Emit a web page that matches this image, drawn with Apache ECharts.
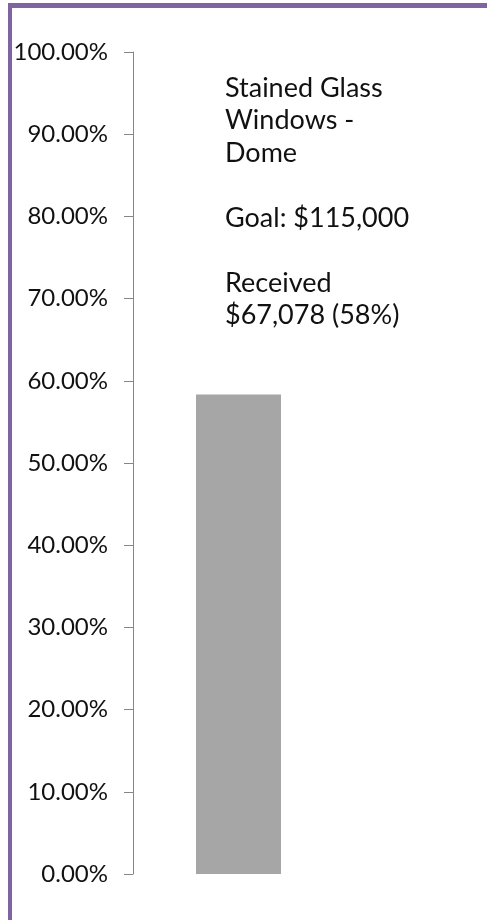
<!DOCTYPE html>
<html>
<head>
<meta charset="utf-8">
<script src="https://cdn.jsdelivr.net/npm/echarts@6/dist/echarts.min.js"></script>
<style>
  html, body { margin: 0; padding: 0; background: #ffffff; }
  #frame { position: absolute; left: 8px; top: 3px; width: 479px; height: 917px;
           border-top: 5px solid #8064a2; border-left: 4px solid #8064a2; box-sizing: border-box; }
  #chart { position: absolute; left: 0; top: 0; width: 487px; height: 920px; }
</style>
</head>
<body>
<div id="frame"></div>
<div id="chart"></div>
<script>
const categories = ['Stained Glass Windows - Dome'];
const percentReceived = [0.5833];
const yTicks = [0, 0.1, 0.2, 0.3, 0.4, 0.5, 0.6, 0.7, 0.8, 0.9, 1.0];
const annotationLines = ['Stained Glass', 'Windows -', 'Dome', '', 'Goal: $115,000', '', 'Received', '$67,078 (58%)'];

const chart = echarts.init(document.getElementById('chart'), null, { renderer: 'canvas' });
const fontFamily = 'Lato, "Open Sans", sans-serif';
chart.setOption({
  animation: false,
  backgroundColor: 'transparent',
  title: {
    text: annotationLines.join('\n'),
    left: 220,
    top: 67,
    textStyle: { fontFamily: fontFamily, fontSize: 27, fontWeight: 'normal', color: '#111', lineHeight: 32.5 }
  },
  grid: { left: 133, top: 52, bottom: 46, width: 211, containLabel: false },
  xAxis: {
    type: 'category',
    data: categories,
    axisLine: { show: false },
    axisTick: { show: false },
    axisLabel: { show: false },
    splitLine: { show: false }
  },
  yAxis: {
    type: 'value',
    min: yTicks[0],
    max: yTicks[yTicks.length - 1],
    interval: 0.1,
    axisLine: { show: true, lineStyle: { color: '#868686', width: 1 } },
    axisTick: { show: true, inside: false, length: 9, lineStyle: { color: '#868686' } },
    axisLabel: {
      margin: 25,
      fontFamily: fontFamily,
      fontSize: 24,
      color: '#111',
      formatter: v => (v * 100).toFixed(2) + '%'
    },
    splitLine: { show: false }
  },
  series: [{
    type: 'bar',
    data: percentReceived,
    barWidth: 85,
    itemStyle: { color: '#a6a6a6' }
  }]
});
</script>
</body>
</html>
